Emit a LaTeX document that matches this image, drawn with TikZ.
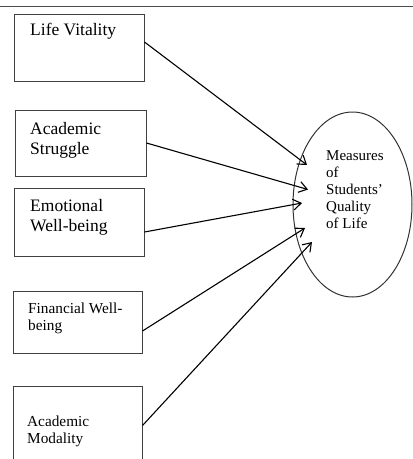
\documentclass[tikz,border=0pt]{standalone}
\usepackage{fontspec}
\setmainfont{Liberation Serif}
\usetikzlibrary{arrows.meta,calc}
\begin{document}
\begin{tikzpicture}[x=1pt,y=-1pt,
  box/.style={draw=black!75,line width=1pt,rectangle,inner sep=0pt},
  bigtxt/.style={anchor=base west,align=left,inner sep=0pt,font=\fontsize{17.5}{19.5}\selectfont},
  smalltxt/.style={anchor=base west,align=left,inner sep=0pt,font=\fontsize{15.3}{16.8}\selectfont},
  conn/.style={draw=black,line width=1.1pt,-{Straight Barb[length=8pt,width=11pt,line width=1.1pt]}}]
\useasboundingbox (0,0) rectangle (413,459);
\coordinate (rl) at (0,6.5);
\coordinate (rr) at (413,6.5);
\draw[black!70,line width=1.2pt] (rl) -- (rr);
% boxes
\node[box,minimum width=130pt,minimum height=67pt] (b1) at (79,47.5) {};
\node[box,minimum width=131pt,minimum height=66pt] (b2) at (80.5,143) {};
\node[box,minimum width=130pt,minimum height=68pt] (b3) at (79,222) {};
\node[box,minimum width=129pt,minimum height=62pt] (b4) at (77.5,322) {};
\node[box,minimum width=129pt,minimum height=79pt] (b5) at (77.5,425.5) {};
% box texts (base = baseline of last line)
\node[bigtxt] (l1) at (30,35) {Life Vitality};
\node[bigtxt] (l2) at (30,154) {Academic\\Struggle};
\node[bigtxt] (l3) at (30,231) {Emotional\\Well-being};
\node[smalltxt] (l4) at (28,330) {Financial Well-\\being};
\node[smalltxt] (l5) at (27,443) {Academic\\Modality};
% ellipse
\draw[black!80,line width=1pt] (352.5,204.5) ellipse [x radius=59.5pt, y radius=92.5pt];
\node[smalltxt,font=\fontsize{15}{17}\selectfont] (q) at (326,228) {Measures\\of\\Students'\\Quality\\of Life};
% arrow tips
\coordinate (t1) at (307,165);
\coordinate (t2) at (308,189.5);
\coordinate (t3) at (302,203);
\coordinate (t4) at (305,228);
\coordinate (t5) at (312,242);
\draw[conn] ([yshift=5.5pt]b1.east) -- (t1);
\draw[conn] (b2.east) -- (t2);
\draw[conn] ([yshift=-10pt]b3.east) -- (t3);
\draw[conn] ([yshift=-9pt]b4.east) -- (t4);
\draw[conn] (b5.east) -- (t5);
\end{tikzpicture}
\end{document}
